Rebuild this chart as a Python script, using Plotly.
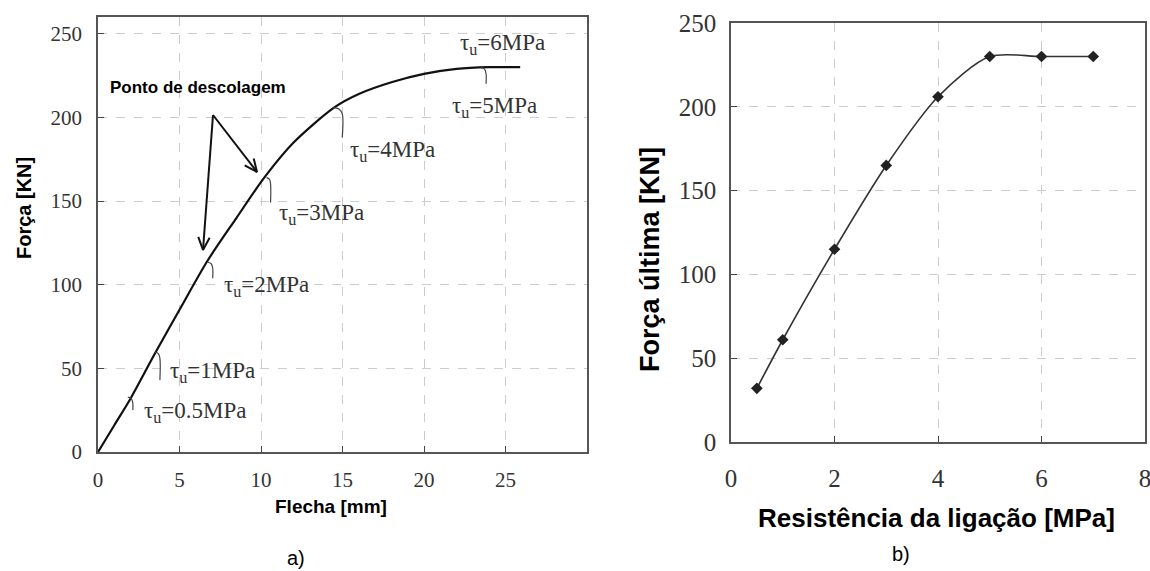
import math
import plotly.graph_objects as go

# ---------------- data ----------------
# (a) load-deflection curve
flecha_mm = [0, 1, 2, 3.5, 5, 6.7, 8.5, 10.2, 12, 14.5, 16, 18, 20, 22, 24, 25.9]
forca_kn = [0, 16, 32, 59, 85, 114, 140, 164, 185, 206, 214, 221, 226, 229, 230, 230]

# debonding points on the curve, labelled by bond strength
tau_labels = ["0.5", "1", "2", "3", "4", "5", "6"]
tau_x = [1.83, 3.49, 6.73, 10.34, 14.37, 23.5, 22.1]
tau_y = [32.8, 59.7, 113.4, 164.0, 205.8, 229.7, 230.0]

# (b) ultimate force vs bond strength
resist_mpa = [0.5, 1, 2, 3, 4, 5, 6, 7]
forca_ult_kn = [32, 61, 115, 165, 206, 230, 230, 230]

xticks_a = [0, 5, 10, 15, 20, 25]
yticks_a = [0, 50, 100, 150, 200, 250]
xticks_b = [0, 2, 4, 6, 8]
yticks_b = [0, 50, 100, 150, 200, 250]

# ---------------- geometry ----------------
W, H = 1150, 571
# pixel boxes of the two plot areas
A_L, A_R, A_T, A_B = 98, 587, 17, 452
B_L, B_R, B_T, B_B = 731, 1145, 23, 442
A_XR, A_YR = [0, 30], [0, 260]
B_XR, B_YR = [0, 8], [0, 250]

ax_px = (A_R - A_L) / (A_XR[1] - A_XR[0])
ay_px = (A_B - A_T) / (A_YR[1] - A_YR[0])


def a_to_px(x, y):
    return A_L + x * ax_px, A_B - y * ay_px


def a_from_px(px, py):
    return (px - A_L) / ax_px, (A_B - py) / ay_px


SERIF = "Liberation Serif, Times New Roman, serif"
SANS = "Liberation Sans, Arial, sans-serif"
TXT = "#333333"

fig = go.Figure()

# main curve (a)
fig.add_trace(go.Scatter(x=flecha_mm, y=forca_kn, mode="lines",
                         line=dict(color="#111111", width=2.2, shape="spline", smoothing=0.8),
                         xaxis="x", yaxis="y", hoverinfo="skip", showlegend=False))

# small hooks at the debonding points (pixel offsets)
hook_dx = [5, 5, 5, 4, 10, 5]
hook_dy = [13, 28, 16, 25, 30, 16]
for i in range(6):
    px, py = a_to_px(tau_x[i], tau_y[i])
    pts = [(px, py), (px + hook_dx[i] * 0.7, py + 1.5), (px + hook_dx[i], py + 6),
           (px + hook_dx[i], py + hook_dy[i])]
    xs, ys = zip(*[a_from_px(p, q) for p, q in pts])
    fig.add_trace(go.Scatter(x=list(xs), y=list(ys), mode="lines",
                             line=dict(color="#444444", width=1.2, shape="spline"),
                             xaxis="x", yaxis="y", hoverinfo="skip", showlegend=False))

# tau labels (pixel positions: left edge, vertical centre)
lab_px = [(142, 412), (168, 372), (222, 286), (277, 214), (348, 151), (450, 107), (458, 44)]
annotations = []
for lab, (px, py) in zip(tau_labels, lab_px):
    x, y = a_from_px(px, py)
    annotations.append(dict(x=x, y=y, xref="x", yref="y", xanchor="left", yanchor="middle",
                            text="τ<sub>u</sub>=" + lab + "MPa", showarrow=False,
                            font=dict(family=SERIF, size=23, color=TXT)))

# arrows "Ponto de descolagem"
origin = (213, 115)
tips = [(203, 250), (257, 172)]
for tx, ty in tips:
    xs, ys = zip(*[a_from_px(*origin), a_from_px(tx, ty)])
    fig.add_trace(go.Scatter(x=list(xs), y=list(ys), mode="lines",
                             line=dict(color="#111111", width=2),
                             xaxis="x", yaxis="y", hoverinfo="skip", showlegend=False))
    dx, dy = tx - origin[0], ty - origin[1]
    n = math.hypot(dx, dy)
    ux, uy = dx / n, dy / n
    L, ang = 14, math.radians(24)
    heads = []
    for s in (1, -1):
        c, si = math.cos(s * ang), math.sin(s * ang)
        hx = tx - L * (ux * c - uy * si)
        hy = ty - L * (ux * si + uy * c)
        heads.append((hx, hy))
    pts = [heads[0], (tx, ty), heads[1]]
    xs, ys = zip(*[a_from_px(p, q) for p, q in pts])
    fig.add_trace(go.Scatter(x=list(xs), y=list(ys), mode="lines",
                             line=dict(color="#111111", width=2),
                             xaxis="x", yaxis="y", hoverinfo="skip", showlegend=False))


def ptext(px, py, text, size, angle=0, xanchor="center"):
    return dict(x=px / W, y=1 - py / H, xref="paper", yref="paper", xanchor=xanchor,
                yanchor="middle", text=text, textangle=angle, showarrow=False,
                font=dict(family=SANS, size=size, color="#000"))


annotations += [
    ptext(108, 88, "<b>Ponto de descolagem</b>", 17, xanchor="left"),
    ptext(24, 208, "<b>Força [KN]</b>", 20, angle=-90),
    ptext(331, 506, "<b>Flecha [mm]</b>", 19),
    ptext(650, 260, "<b>Força última [KN]</b>", 27, angle=-90),
    ptext(936, 518, "<b>Resistência da ligação [MPa]</b>", 26),
    ptext(296, 558, "a)", 20),
    ptext(901, 554, "b)", 20),
]

# curve (b)
fig.add_trace(go.Scatter(x=resist_mpa, y=forca_ult_kn, mode="lines+markers",
                         line=dict(color="#333333", width=1.6, shape="spline", smoothing=0.8),
                         marker=dict(symbol="diamond", size=9, color="#222222"),
                         xaxis="x2", yaxis="y2", hoverinfo="skip", showlegend=False))

common = dict(showline=True, linecolor="#555555", linewidth=1.5, mirror=True,
              ticks="inside", ticklen=6, tickcolor="#444444", tickwidth=1.3,
              showgrid=True, gridcolor="#cccccc", griddash="dash", gridwidth=1,
              zeroline=False, automargin=False, ticklabeloverflow="allow")

fig.update_layout(
    width=W, height=H, margin=dict(l=0, r=0, t=0, b=0, autoexpand=False),
    paper_bgcolor="white", plot_bgcolor="white",
    xaxis=dict(domain=[A_L / W, A_R / W], range=A_XR, tickvals=xticks_a, anchor="y",
               tickfont=dict(family=SERIF, size=21, color=TXT), ticklabelstandoff=8, **common),
    yaxis=dict(domain=[1 - A_B / H, 1 - A_T / H], range=A_YR, tickvals=yticks_a, anchor="x",
               tickfont=dict(family=SERIF, size=21, color=TXT), ticklabelstandoff=10, **common),
    xaxis2=dict(domain=[B_L / W, B_R / W], range=B_XR, tickvals=xticks_b, anchor="y2",
                tickfont=dict(family=SERIF, size=25, color=TXT), ticklabelstandoff=13, **common),
    yaxis2=dict(domain=[1 - B_B / H, 1 - B_T / H], range=B_YR, tickvals=yticks_b, anchor="x2",
                tickfont=dict(family=SERIF, size=25, color=TXT), ticklabelstandoff=8, **common),
    annotations=annotations,
)

fig.write_html("out.html", config={"displayModeBar": False},
               post_script="document.body.style.margin='0px';document.body.style.overflow='hidden';")
